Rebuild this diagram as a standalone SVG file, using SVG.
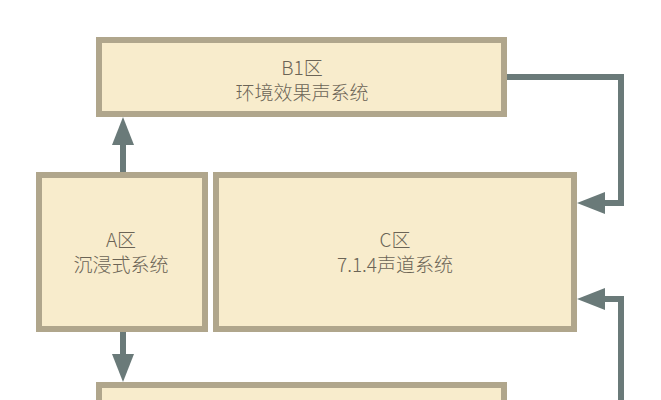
<svg xmlns="http://www.w3.org/2000/svg" width="661" height="400" viewBox="0 0 661 400">
  <style>
    .box { fill: #F8ECCC; stroke: #B0A68C; stroke-width: 6; }
    .lbl { font-family: "Noto Sans CJK SC", "Noto Sans", sans-serif; font-size: 19px; font-weight: 300; fill: #6B6456; text-anchor: middle; }
    .conn { fill: none; stroke: #6A7A79; stroke-width: 6; stroke-linejoin: miter; }
  </style>
  <defs>
    <marker id="arrow" viewBox="0 0 28 22" refX="2" refY="11" markerWidth="28" markerHeight="22" markerUnits="userSpaceOnUse" orient="auto">
      <path d="M0,0 L28,11 L0,22 Z" fill="#6A7A79"/>
    </marker>
  </defs>
  <rect width="661" height="400" fill="#FFFFFF"/>

  <g id="connectors">
    <path class="conn" d="M123,172 V143" marker-end="url(#arrow)"/>
    <path class="conn" d="M123,332 V356" marker-end="url(#arrow)"/>
    <path class="conn" d="M507,77 H621 V203 H603" marker-end="url(#arrow)"/>
    <path class="conn" d="M621,400 V299 H603" marker-end="url(#arrow)"/>
  </g>

  <g id="node-b1">
    <rect class="box" x="99" y="40" width="405" height="74"/>
    <text class="lbl" x="302" y="75">B1区</text>
    <text class="lbl" x="302" y="100">环境效果声系统</text>
  </g>

  <g id="node-a">
    <rect class="box" x="39" y="175" width="166" height="154"/>
    <text class="lbl" x="121" y="247">A区</text>
    <text class="lbl" x="121" y="272">沉浸式系统</text>
  </g>

  <g id="node-c">
    <rect class="box" x="216" y="175" width="358" height="154"/>
    <text class="lbl" x="395" y="247">C区</text>
    <text class="lbl" x="395" y="272">7.1.4声道系统</text>
  </g>

  <g id="node-d">
    <rect class="box" x="99" y="385" width="405" height="40"/>
  </g>
</svg>
